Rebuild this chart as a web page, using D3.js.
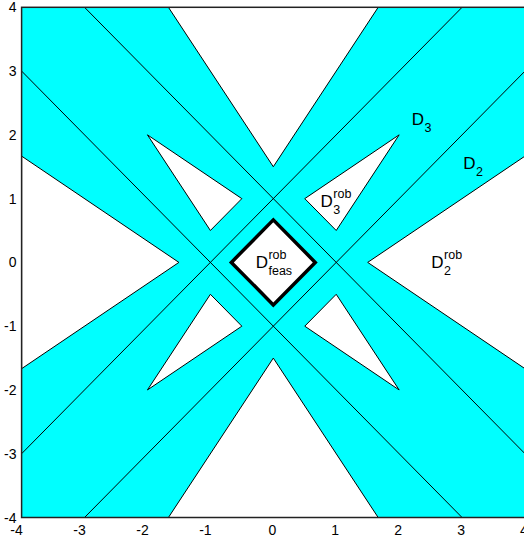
<!DOCTYPE html>
<html>
<head>
<meta charset="utf-8">
<script src="https://cdn.jsdelivr.net/npm/d3@7"></script>
<style>
  html, body { margin: 0; padding: 0; background: #fff; }
  svg { display: block; }
  text { font-family: "Liberation Sans Narrow", "Liberation Sans", Arial, sans-serif; fill: #000; }
</style>
</head>
<body>
<svg id="chart" width="524" height="538"></svg>
<script>
// Axis ticks
const xTicks = [-4, -3, -2, -1, 0, 1, 2, 3, 4];
const yTicks = [-4, -3, -2, -1, 0, 1, 2, 3, 4];

// Robust wedges D2^rob (top, right, bottom, left)
const wedges = [
  [[-5/3, 4], [0, 1.5], [5/3, 4]],
  [[4, 5/3], [1.5, 0], [4, -5/3]],
  [[-5/3, -4], [0, -1.5], [5/3, -4]],
  [[-4, 5/3], [-1.5, 0], [-4, -5/3]]
];

// Robust triangles D3^rob, one per quadrant
const triangles = [
  [[0.5, 1], [2, 2], [1, 0.5]],
  [[1, -0.5], [2, -2], [0.5, -1]],
  [[-0.5, -1], [-2, -2], [-1, -0.5]],
  [[-1, 0.5], [-2, 2], [-0.5, 1]]
];

// Robust feasible set
const feasible = [[0, 2/3], [2/3, 0], [0, -2/3], [-2/3, 0]];

// Boundary lines x ± y = ±1
const lines = [
  [[-3, 4], [4, -3]],
  [[-4, 3], [3, -4]],
  [[-4, -3], [3, 4]],
  [[-3, -4], [4, 3]]
];

// Region labels: main letter, subscript, superscript, anchor position
const labels = [
  { main: "D", sub: "3", sup: "",    x: 2.20,  y: 2.15 },
  { main: "D", sub: "2", sup: "",    x: 3.02,  y: 1.47 },
  { main: "D", sub: "3", sup: "rob", x: 0.75,  y: 0.87 },
  { main: "D", sub: "feas", sup: "rob", x: -0.28, y: -0.09 },
  { main: "D", sub: "2", sup: "rob", x: 2.51,  y: -0.09 }
];

const svg = d3.select("#chart");
const x = d3.scaleLinear().domain([-4, 4]).range([21.6, 525]);
const y = d3.scaleLinear().domain([-4, 4]).range([517.5, 7.3]);

svg.append("defs").append("clipPath").attr("id", "plotclip")
  .append("rect")
  .attr("x", x(-4)).attr("y", y(4))
  .attr("width", x(4) - x(-4)).attr("height", y(-4) - y(4));

const plot = svg.append("g").attr("clip-path", "url(#plotclip)");

plot.append("rect")
  .attr("x", x(-4)).attr("y", y(4))
  .attr("width", x(4) - x(-4)).attr("height", y(-4) - y(4))
  .attr("fill", "#00ffff");

const line = d3.line().x(d => x(d[0])).y(d => y(d[1]));
const poly = pts => line(pts) + "Z";

plot.selectAll("path.wedge").data(wedges).join("path")
  .attr("class", "wedge")
  .attr("d", poly)
  .attr("fill", "#fff").attr("stroke", "#000").attr("stroke-width", 1)
  .attr("stroke-linejoin", "miter");

plot.selectAll("path.tri").data(triangles).join("path")
  .attr("class", "tri")
  .attr("d", poly)
  .attr("fill", "#fff").attr("stroke", "#000").attr("stroke-width", 1)
  .attr("stroke-linejoin", "miter");

plot.selectAll("path.bline").data(lines).join("path")
  .attr("class", "bline")
  .attr("d", line)
  .attr("fill", "none").attr("stroke", "#000").attr("stroke-width", 1);

plot.append("path")
  .attr("d", poly(feasible))
  .attr("fill", "#fff").attr("stroke", "#000").attr("stroke-width", 3.5)
  .attr("stroke-linejoin", "miter");

// Labels with sub/superscripts stacked after the main letter
labels.forEach(l => {
  const g = plot.append("g");
  const m = g.append("text")
    .attr("x", x(l.x)).attr("y", y(l.y))
    .attr("font-size", 17)
    .text(l.main);
  const w = m.node().getComputedTextLength();
  if (l.sub) {
    g.append("text")
      .attr("x", x(l.x) + w + 0.5).attr("y", y(l.y) + 7)
      .attr("font-size", 12.5)
      .text(l.sub);
  }
  if (l.sup) {
    g.append("text")
      .attr("x", x(l.x) + w + 0.5).attr("y", y(l.y) - 9)
      .attr("font-size", 12.5)
      .text(l.sup);
  }
});

// Frame
svg.append("rect")
  .attr("x", x(-4)).attr("y", y(4))
  .attr("width", x(4) - x(-4)).attr("height", y(-4) - y(4))
  .attr("fill", "none").attr("stroke", "#222").attr("stroke-width", 1.5);

// Tick labels
svg.append("g").selectAll("text").data(yTicks).join("text")
  .attr("x", 16.5).attr("y", d => y(d))
  .attr("dy", "0.36em")
  .attr("text-anchor", "end")
  .attr("font-size", 14)
  .text(d => String(d));

// x labels: the digit sits on the tick, a leading minus hangs to its left
svg.append("g").selectAll("text").data(xTicks).join("text")
  .attr("x", d => x(d) - (d < 0 ? 5 : 1))
  .attr("y", 534.5)
  .attr("text-anchor", "middle")
  .attr("font-size", 14)
  .text(d => String(d));
</script>
</body>
</html>
